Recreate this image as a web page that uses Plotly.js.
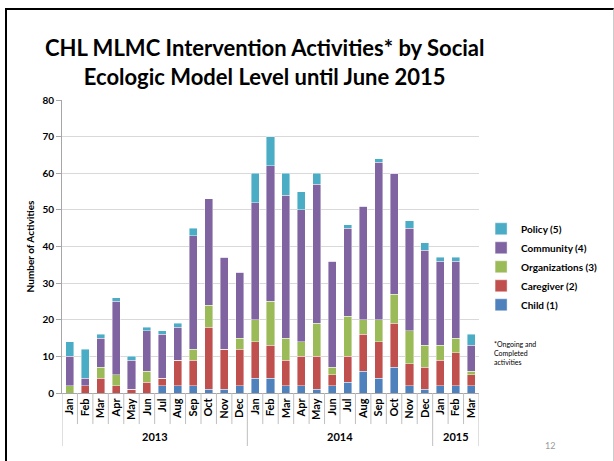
<!DOCTYPE html>
<html>
<head>
<meta charset="utf-8">
<script src="https://cdn.plot.ly/plotly-3.0.1.min.js"></script>
<style>
  html, body { margin: 0; padding: 0; background: #fff; }
  #wrap { position: relative; width: 614px; height: 461px; overflow: hidden; }
  #chart { position: absolute; left: 0; top: 0; width: 614px; height: 461px; }
  #frame { position: absolute; left: 5px; top: 8px; width: 606px; height: 470px;
           border-left: 2px solid #000; border-top: 2px solid #000; border-right: 1px solid #ccc;
           pointer-events: none; }
</style>
</head>
<body>
<div id="wrap">
  <div id="chart"></div>
  <div id="frame"></div>
</div>
<script>
const months = ['Jan','Feb','Mar','Apr','May','Jun','Jul','Aug','Sep','Oct','Nov','Dec',
                'Jan','Feb','Mar','Apr','May','Jun','Jul','Aug','Sep','Oct','Nov','Dec',
                'Jan','Feb','Mar'];
const years = ['2013','2013','2013','2013','2013','2013','2013','2013','2013','2013','2013','2013',
               '2014','2014','2014','2014','2014','2014','2014','2014','2014','2014','2014','2014',
               '2015','2015','2015'];
const yearLabels = ['2013','2014','2015'];

const child         = [0,0,0,0,0,0,2,2,2,1,1,2, 4,4,2,2,1,2,3,6,4,7,2,1, 2,2,2];
const caregiver     = [0,2,4,2,1,3,2,7,7,17,11,10, 10,9,7,8,9,3,7,10,10,12,6,6, 7,9,3];
const organizations = [2,0,3,3,0,3,0,0,3,6,0,3, 6,12,6,4,9,2,11,4,6,8,9,6, 4,4,1];
const community     = [8,2,8,20,8,11,12,9,31,29,25,18, 32,37,39,36,38,29,24,31,43,33,28,26, 23,21,7];
const policy        = [4,8,1,1,1,1,1,1,2,0,0,0, 8,8,6,5,3,0,1,0,1,0,2,2, 1,1,3];

const seriesNames = ['Child (1)','Caregiver (2)','Organizations (3)','Community (4)','Policy (5)'];
const seriesData = [child, caregiver, organizations, community, policy];
const seriesColors = ['#4F81BD','#C0504D','#9BBB59','#8064A2','#4BACC6'];

const cats = months.map((m, i) => m + ' ' + years[i]);
const FONT = 'Lato, "Open Sans", Arial, sans-serif';

const traces = seriesNames.map((name, k) => ({
  type: 'bar',
  name: name,
  x: cats,
  y: seriesData[k],
  marker: { color: seriesColors[k], line: { color: 'rgba(255,255,255,0.7)', width: 0.6 } },
  hoverinfo: 'x+y+name'
}));

// category dividers below the axis
const shapes = [];
for (let i = 0; i <= cats.length; i++) {
  const isYearEdge = i === 0 || i === cats.length || years[i] !== years[i - 1];
  shapes.push({
    type: 'line', xref: 'x', yref: 'paper',
    x0: i - 0.5, x1: i - 0.5, y0: 0, y1: isYearEdge ? -0.181 : -0.106,
    line: { color: '#bfbfbf', width: 1 }
  });
}

const annotations = [];
annotations.push({
  xref: 'paper', yref: 'paper', x: 0.486, y: 1.13, xanchor: 'center', yanchor: 'middle',
  text: '<b>CHL MLMC Intervention Activities* by Social<br>Ecologic Model Level until June 2015</b>',
  showarrow: false, align: 'center',
  font: { family: FONT, size: 22, color: '#000' }
});
yearLabels.forEach(yr => {
  const idx = years.map((v, i) => v === yr ? i : -1).filter(i => i >= 0);
  const mid = (idx[0] + idx[idx.length - 1]) / 2;
  annotations.push({
    xref: 'x', yref: 'paper', x: mid, y: -0.150, text: '<b>' + yr + '</b>',
    showarrow: false, font: { family: FONT, size: 11, color: '#000' }, xanchor: 'center', yanchor: 'middle'
  });
});
annotations.push({
  xref: 'paper', yref: 'paper', x: 1.031, y: 0.188, xanchor: 'left', yanchor: 'top', align: 'left',
  text: '*Ongoing and<br>Completed<br>activities', showarrow: false,
  font: { family: FONT, size: 7, color: '#000' }
});
annotations.push({
  xref: 'paper', yref: 'paper', x: 1.17, y: -0.178, xanchor: 'center', yanchor: 'middle',
  text: '12', showarrow: false, font: { family: FONT, size: 9, color: '#9a9a9a' }
});

const layout = {
  width: 614, height: 461,
  margin: { l: 62, r: 114, t: 100, b: 68 },
  paper_bgcolor: '#fff', plot_bgcolor: '#fff',
  barmode: 'stack', bargap: 0.48,
  font: { family: FONT, color: '#000' },
  xaxis: {
    type: 'category', tickmode: 'array', tickvals: cats, ticktext: months,
    tickangle: -90, ticks: '', showgrid: false, zeroline: false,
    showline: true, linecolor: '#a6a6a6', linewidth: 1,
    tickfont: { family: FONT, size: 11, color: '#000', weight: 'bold' },
    range: [-0.5, cats.length - 0.5], fixedrange: true
  },
  yaxis: {
    range: [0, 80], dtick: 10, showgrid: true, gridcolor: '#d9d9d9', gridwidth: 1,
    zeroline: false, showline: true, linecolor: '#a6a6a6', linewidth: 1,
    ticks: 'outside', ticklen: 5, tickcolor: '#a6a6a6',
    tickfont: { family: FONT, size: 10, color: '#000', weight: 'bold' },
    title: { text: 'Number of Activities', font: { family: FONT, size: 10, color: '#000', weight: 'bold' }, standoff: 5 },
    fixedrange: true
  },
  showlegend: true,
  legend: {
    x: 1.005, y: 0.61, xanchor: 'left', yanchor: 'top', traceorder: 'reversed',
    font: { family: FONT, size: 10, color: '#000', weight: 'bold' },
    bgcolor: 'rgba(0,0,0,0)', itemclick: false, itemdoubleclick: false
  },
  shapes: shapes,
  annotations: annotations
};

Plotly.newPlot('chart', traces, layout, { displayModeBar: false, staticPlot: true });
</script>
</body>
</html>
